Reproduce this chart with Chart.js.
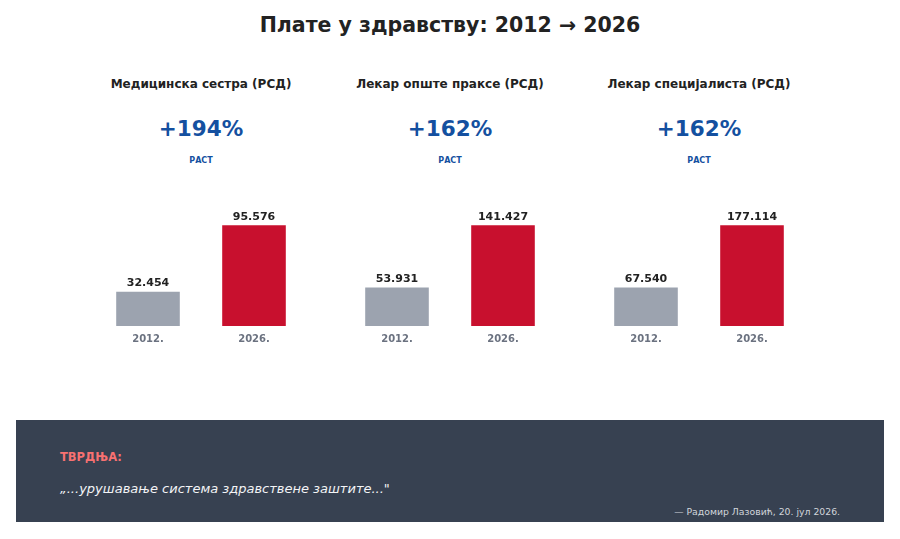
<!DOCTYPE html>
<html>
<head>
<meta charset="utf-8">
<script src="https://cdn.jsdelivr.net/npm/chart.js@4"></script>
<style>
  body { margin: 0; width: 900px; height: 539px; background: #fff; font-family: "DejaVu Sans", sans-serif; position: relative; overflow: hidden; }
  .abs { position: absolute; white-space: nowrap; }
  .title { left: 0; width: 900px; top: 13px; text-align: center; font-size: 20.5px; font-weight: bold; color: #222; }
  .ptitle { width: 300px; text-align: center; font-size: 12px; font-weight: bold; color: #222; top: 77px; }
  .pct { width: 300px; text-align: center; font-size: 21.5px; font-weight: bold; color: #1450a0; top: 116px; }
  .rast { width: 300px; text-align: center; font-size: 8px; font-weight: bold; color: #1450a0; top: 156px; }
  .box { left: 16px; top: 420px; width: 868px; height: 102px; background: #374151; }
  .claim { left: 60px; top: 450px; font-size: 11.5px; font-weight: bold; color: #f87171; }
  .quote { left: 60px; top: 481px; font-size: 13px; font-style: italic; color: #f3f4f6; }
  .attr { right: 60px; top: 506px; font-size: 9.3px; color: #d1d5db; }
  canvas { position: absolute; }
</style>
</head>
<body>
<div class="abs title">Плате у здравству: 2012 → 2026</div>
<div id="panels"></div>
<div class="abs box"></div>
<div class="abs claim">ТВРДЊА:</div>
<div class="abs quote">„...урушавање система здравствене заштите..."</div>
<div class="abs attr">— Радомир Лазовић, 20. јул 2026.</div>
<script>
const years = ["2012.", "2026."];
const groups = ["Медицинска сестра (РСД)", "Лекар опште праксе (РСД)", "Лекар специјалиста (РСД)"];
const growth = ["+194%", "+162%", "+162%"];
const salaries2012 = [32454, 53931, 67540];
const salaries2026 = [95576, 141427, 177114];
const centers = [201, 450, 699];

function fmt(v) {
  return String(v).replace(/\B(?=(\d{3})+(?!\d))/g, ".");
}

// value printed above each bar
const valueLabels = {
  id: "valueLabels",
  afterDatasetsDraw(chart) {
    const ctx = chart.ctx;
    const meta = chart.getDatasetMeta(0);
    ctx.save();
    ctx.font = "bold 11px 'DejaVu Sans'";
    ctx.fillStyle = "#222";
    ctx.textAlign = "center";
    ctx.textBaseline = "bottom";
    meta.data.forEach((bar, i) => {
      ctx.fillText(fmt(chart.data.datasets[0].data[i]), bar.x, bar.y - 3);
    });
    ctx.restore();
  }
};

const panels = document.getElementById("panels");
groups.forEach((name, i) => {
  const c = centers[i];
  panels.insertAdjacentHTML("beforeend",
    `<div class="abs ptitle" style="left:${c - 150}px">${name}</div>
     <div class="abs pct" style="left:${c - 150}px">${growth[i]}</div>
     <div class="abs rast" style="left:${c - 150}px">РАСТ</div>`);
  const cv = document.createElement("canvas");
  cv.style.left = (c - 130) + "px";
  cv.style.top = "191px";
  cv.style.width = "260px";
  cv.style.height = "167px";
  cv.width = 260; cv.height = 167;
  panels.appendChild(cv);
  const vals = [salaries2012[i], salaries2026[i]];
  new Chart(cv, {
    type: "bar",
    data: {
      labels: years,
      datasets: [{
        data: vals,
        backgroundColor: ["#9ca3af", "#c8102e"],
        barPercentage: 0.6,
        categoryPercentage: 1
      }]
    },
    options: {
      responsive: false,
      animation: false,
      layout: { padding: { left: 24, right: 24, top: 9, bottom: 6 } },
      plugins: { legend: { display: false }, tooltip: { enabled: false } },
      scales: {
        y: { display: false, min: 0, max: Math.max(...vals) * 1.25 },
        x: {
          grid: { display: false, drawTicks: false },
          border: { display: false },
          ticks: { color: "#6b7280", padding: 7, font: { family: "DejaVu Sans", size: 10, weight: "bold" } }
        }
      }
    },
    plugins: [valueLabels]
  });
});
</script>
</body>
</html>
